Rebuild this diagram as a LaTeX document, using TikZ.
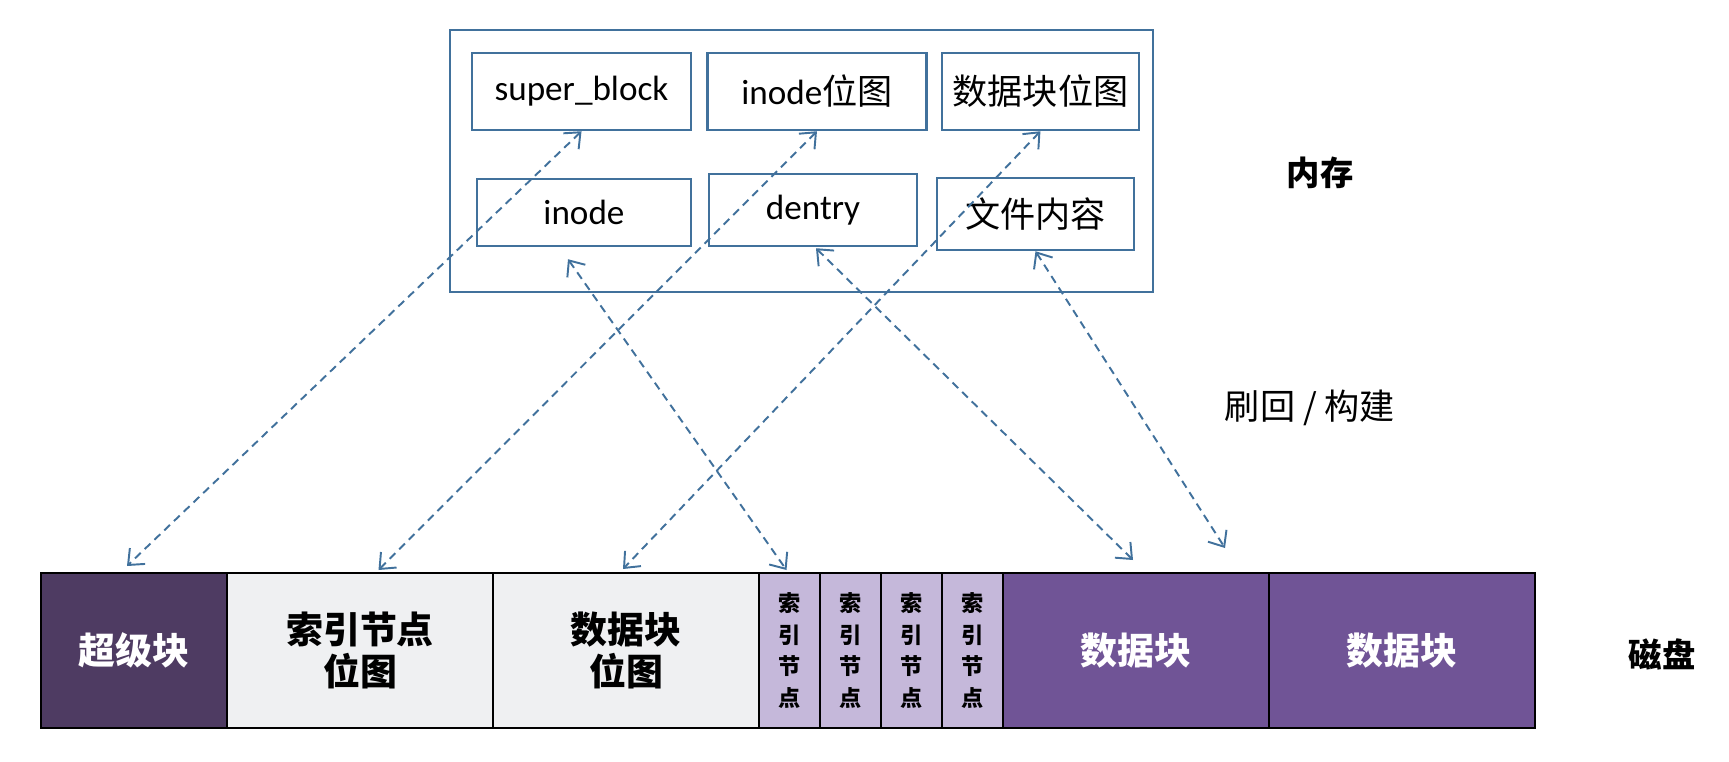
\documentclass[tikz,border=0pt]{standalone}
\usepackage{fontspec}
\setmainfont{Carlito}
\newfontfamily\cjk{Noto Sans CJK SC}
\usetikzlibrary{arrows.meta,positioning}
\definecolor{memblue}{HTML}{41719C}
\definecolor{supfill}{HTML}{4E3B62}
\definecolor{bmfill}{HTML}{EFF0F2}
\definecolor{inofill}{HTML}{C5B8DA}
\definecolor{datafill}{HTML}{705496}

\begin{document}
\begin{tikzpicture}[
    memitem/.style={draw=memblue, line width=0.7pt, align=center, inner sep=0pt, minimum width=2.19cm, minimum height=0.77cm, font=\fontsize{10}{12}\selectfont},
    memframe/.style={draw=memblue, line width=0.8pt, inner sep=0pt, minimum width=7.03cm, minimum height=2.62cm},
    cell/.style={draw=black, line width=0.8pt, outer sep=0pt, align=center, inner sep=0pt, minimum height=1.55cm, font=\cjk\bfseries\fontsize{10.5}{12.2}\selectfont},
    supcell/.style={cell, fill=supfill, text=white, minimum width=1.86cm},
    bmcell/.style={cell, fill=bmfill, minimum width=2.66cm},
    inocell/.style={cell, fill=inofill, minimum width=0.61cm, font=\cjk\bfseries\fontsize{6.3}{9}\selectfont},
    datacell/.style={cell, fill=datafill, text=white, minimum width=2.66cm},
    tag/.style={font=\cjk\fontsize{10}{12}\selectfont},
    link/.style={{Straight Barb[length=1.3mm,width=2.2mm]}-{Straight Barb[length=1.3mm,width=2.2mm]}, draw=memblue, line width=0.55pt, dash pattern=on 0.8mm off 0.55mm}
]
\useasboundingbox (0,0) rectangle (17.29,7.61);

% memory side
\node[memframe] (mem) at (8.015,6.00) {};
\node[memitem] (sb) at (5.815,6.695) {super\_block};
\node[memitem, right=0.14cm of sb] (ib) {inode{\cjk 位图}};
\node[memitem, right=0.13cm of ib, minimum width=1.97cm, font=\cjk\fontsize{10}{12}\selectfont] (db) {数据块位图};
\node[memitem, minimum width=2.14cm, minimum height=0.67cm] (ino) at (5.84,5.485) {inode};
\node[memitem, minimum width=2.08cm, minimum height=0.72cm] (den) at (8.13,5.51) {dentry};
\node[memitem, minimum width=1.97cm, minimum height=0.72cm, font=\cjk\fontsize{10}{12}\selectfont] (fc) at (10.355,5.47) {文件内容};

% disk side
\node[supcell, anchor=west] (sup) at (0.41,1.105) {超级块};
\node[bmcell, right=0pt of sup] (ibm) {索引节点\\位图};
\node[bmcell, right=0pt of ibm] (dbm) {数据块\\位图};
\node[inocell, right=0pt of dbm] (in1) {索\\引\\节\\点};
\node[inocell, right=0pt of in1] (in2) {索\\引\\节\\点};
\node[inocell, right=0pt of in2] (in3) {索\\引\\节\\点};
\node[inocell, right=0pt of in3] (in4) {索\\引\\节\\点};
\node[datacell, right=0pt of in4] (dat1) {数据块};
\node[datacell, right=0pt of dat1] (dat2) {数据块};

% labels
\node[tag, font=\cjk\bfseries\fontsize{9.5}{12}\selectfont] (memlbl) at (13.20,5.88) {内存};
\node[tag] (synclbl) at (13.10,3.53) {刷回 / 构建};
\node[tag, font=\cjk\bfseries\fontsize{9.5}{12}\selectfont] (disklbl) at (16.62,1.07) {磁盘};

\draw[link] (sb.south) -- ([shift={(-0.07,0.07)}]sup.north);
\draw[link] (ib.south) -- ([shift={(0.185,0.03)}]ibm.north);
\draw[link] (db.south) -- ([shift={(-0.03,0.04)}]dbm.north);
\draw[link] ([shift={(-0.16,-0.12)}]ino.south) -- ([shift={(-0.03,0.03)}]in1.north);
\draw[link] ([shift={(0.03,-0.01)}]den.south) -- ([shift={(-0.03,0.13)}]dat1.north);
\draw[link] (fc.south) -- ([shift={(0.89,0.25)}]dat1.north);
\end{tikzpicture}
\end{document}
